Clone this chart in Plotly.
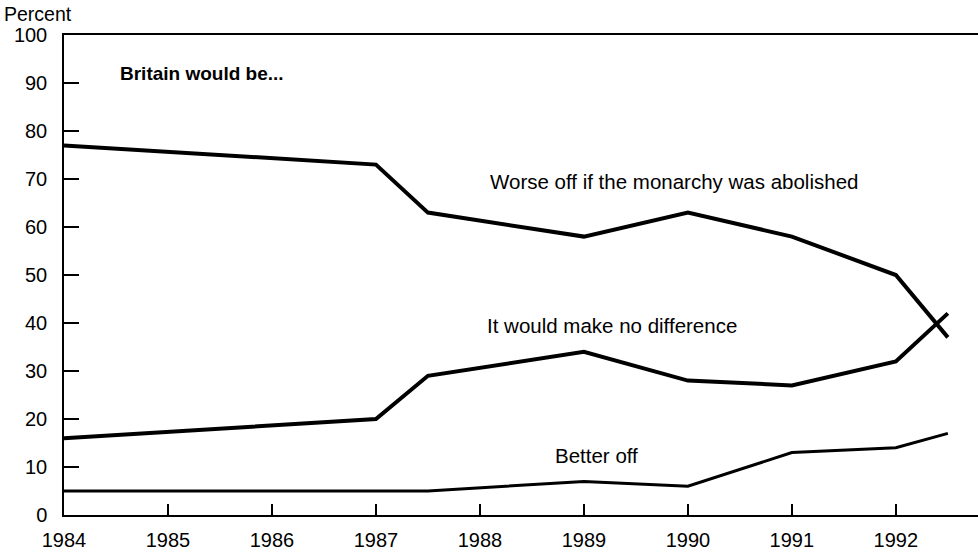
import plotly.graph_objects as go

years = [1984, 1987, 1987.5, 1989, 1990, 1991, 1992, 1992.5]
worse_off = [77, 73, 63, 58, 63, 58, 50, 37]
no_difference = [16, 20, 29, 34, 28, 27, 32, 42]
better_off = [5, 5, 5, 7, 6, 13, 14, 17]

x_ticks = [1984, 1985, 1986, 1987, 1988, 1989, 1990, 1991, 1992]
y_ticks = [0, 10, 20, 30, 40, 50, 60, 70, 80, 90, 100]

FONT = "Liberation Sans, Arial, Helvetica, sans-serif"

fig = go.Figure()
fig.add_trace(go.Scatter(x=years, y=worse_off, mode="lines",
                         line=dict(color="black", width=4), name="Worse off"))
fig.add_trace(go.Scatter(x=years, y=no_difference, mode="lines",
                         line=dict(color="black", width=4), name="No difference"))
fig.add_trace(go.Scatter(x=years, y=better_off, mode="lines",
                         line=dict(color="black", width=3), name="Better off"))

ann_font = dict(family=FONT, size=20.5, color="black")
fig.add_annotation(x=1984.52, y=91.9, text="<b>Britain would be...</b>", showarrow=False,
                   xanchor="left", yanchor="middle", font=dict(family=FONT, size=19, color="black"))
fig.add_annotation(x=1988.08, y=69.4, text="Worse off if the monarchy was abolished",
                   showarrow=False, xanchor="left", yanchor="middle", font=ann_font)
fig.add_annotation(x=1988.05, y=39.4, text="It would make no difference",
                   showarrow=False, xanchor="left", yanchor="middle", font=ann_font)
fig.add_annotation(x=1988.70, y=12.3, text="Better off",
                   showarrow=False, xanchor="left", yanchor="middle", font=ann_font)
fig.add_annotation(xref="paper", yref="paper", x=-0.068, y=1.044, text="Percent",
                   showarrow=False, xanchor="left", yanchor="middle",
                   font=dict(family=FONT, size=19.5, color="black"))

fig.update_layout(
    width=978, height=554,
    margin=dict(l=64, r=0, t=35, b=39),
    paper_bgcolor="white", plot_bgcolor="white",
    showlegend=False,
    font=dict(family=FONT, size=20, color="black"),
    xaxis=dict(range=[1984, 1992.79], tickmode="array", tickvals=x_ticks,
               ticks="inside", ticklen=11, tickwidth=1.5, tickcolor="black",
               showline=True, linecolor="black", linewidth=1.5, mirror=True,
               showgrid=False, zeroline=False, ticklabelstandoff=6, automargin=False,
               tickfont=dict(family=FONT, size=20, color="black")),
    yaxis=dict(range=[0, 100], tickmode="array", tickvals=y_ticks,
               ticks="inside", ticklen=15, tickwidth=1.5, tickcolor="black",
               showline=True, linecolor="black", linewidth=1.5,
               showgrid=False, zeroline=False, ticklabelstandoff=11, automargin=False,
               tickfont=dict(family=FONT, size=20, color="black")),
)

fig.write_html("out.html", config={"displayModeBar": False},
               post_script="document.body.style.margin='0';document.body.style.overflow='hidden';")
